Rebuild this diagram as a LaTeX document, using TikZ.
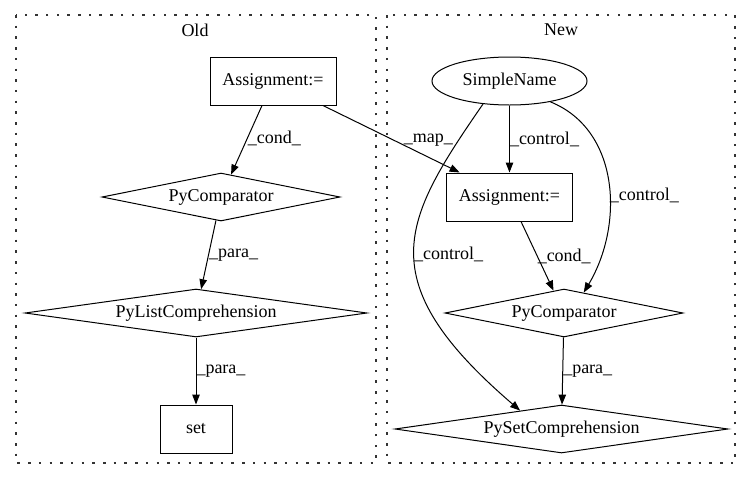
\documentclass[tikz,border=0pt]{standalone}
\usepackage{fontspec}
\setmainfont{Liberation Serif}
\usetikzlibrary{shapes.geometric,arrows.meta}
\begin{document}
\begin{tikzpicture}[x=1pt,y=1pt,
  every node/.style={font=\fontsize{18}{20}\selectfont, inner sep=0pt},
  box/.style={draw, rectangle, line width=1pt, minimum height=48pt},
  dia/.style={draw, diamond, line width=1pt, minimum height=48pt},
  ell/.style={draw, ellipse, line width=1pt, minimum height=48pt, minimum width=155pt},
  cluster/.style={line width=1.3pt, dash pattern=on 2.5pt off 8.2pt, draw=black!80},
  conn/.style={line width=1pt, -{Triangle[length=10pt,width=7.5pt]}},
  elab/.style={anchor=west}
]
\useasboundingbox (0,0) rectangle (752,-480);
\draw[cluster] (16,-15) rectangle (376,-463);
\draw[cluster] (387,-15) rectangle (735,-463);
\node (oldt) at (195,-30) {Old};
\node (newt) at (561,-30) {New};
% Old
\node[box, minimum width=126pt] (oa) at (273,-81) {Assignment:=};
\node[dia, minimum width=238pt, aspect=4.96] (opc) at (221,-197) {PyComparator};
\node[dia, minimum width=342pt, aspect=7.1] (plc) at (196,-313) {PyListComprehension};
\node[box, minimum width=72pt] (set) at (196,-429) {set};
% New
\node[ell] (sn) at (509.5,-81) {SimpleName};
\node[box, minimum width=126pt] (na) at (509.5,-197) {Assignment:=};
\node[dia, minimum width=238pt, aspect=4.96] (npc) at (564,-313) {PyComparator};
\node[dia, minimum width=333pt, aspect=6.94] (psc) at (561.5,-429) {PySetComprehension};
% edges
\draw[conn] (oa) -- node[elab, pos=0.47] (l1) {\_cond\_} (opc);
\draw[conn] (opc) -- node[elab, pos=0.5] (l2) {\_para\_} (plc);
\draw[conn] (plc) -- node[elab, pos=0.5] (l3) {\_para\_} (set);
\draw[conn] (oa) -- node[elab, pos=0.5, xshift=12pt, yshift=-1pt] (l4) {\_map\_} (na);
\draw[conn] (sn) -- node[elab, pos=0.5] (l5) {\_control\_} (na);
\draw[conn] (sn.-27) .. controls (620,-130) and (624,-225) .. node[elab, pos=0.56] (l6) {\_control\_} (npc.46);
\draw[conn] (sn.-139) .. controls (403,-220) and (368,-280) .. node[elab, pos=0.51, xshift=-1pt] (l7) {\_control\_} (psc.156);
\draw[conn] (na) -- node[elab, pos=0.5] (l8) {\_cond\_} (npc);
\draw[conn] (npc) -- node[elab, pos=0.5] (l9) {\_para\_} (psc);
\end{tikzpicture}
\end{document}
